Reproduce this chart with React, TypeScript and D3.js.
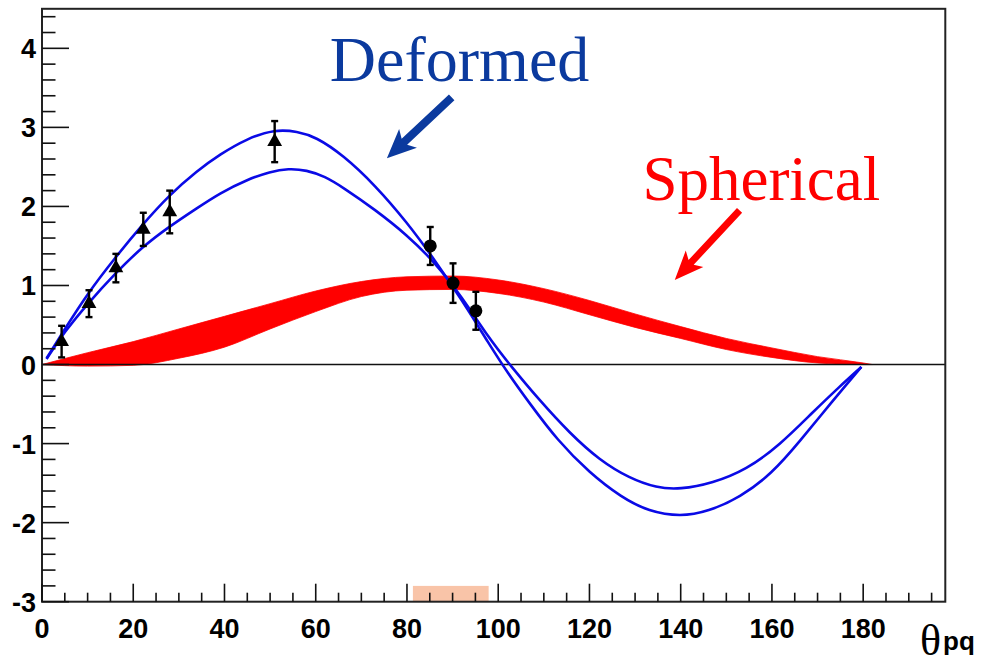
import React, { useEffect, useRef } from 'react';
import * as d3 from 'd3';

const W = 984;
const H = 665;

// Axis ranges
const xDomain: [number, number] = [0, 198];
const yDomain: [number, number] = [-3, 4.5];
const xMajorTicks = [0, 20, 40, 60, 80, 100, 120, 140, 160, 180];
const yMajorTicks = [-3, -2, -1, 0, 1, 2, 3, 4];

// Deformed calculation, larger-amplitude curve
const deformedOuterTheta = [1, 5, 10, 16, 22, 28, 34, 39, 45, 51, 56, 60, 66, 73, 80, 86, 92, 98, 102, 107, 113, 120, 127, 133, 140, 146, 153, 160, 166, 173, 179.6];
const deformedOuterValue = [0.08, 0.45, 0.9, 1.35, 1.77, 2.15, 2.45, 2.66, 2.86, 2.975, 2.95, 2.88, 2.65, 2.27, 1.8, 1.33, 0.82, 0.26, -0.1, -0.5, -0.96, -1.37, -1.68, -1.86, -1.925, -1.86, -1.68, -1.38, -0.98, -0.48, -0.03];

// Deformed calculation, smaller-amplitude curve
const deformedInnerTheta = [1, 5, 10, 16, 22, 28, 34, 39, 45, 50, 54, 58, 62, 66, 73, 80, 86, 92, 98, 102.5, 109, 115.7, 122.2, 128.8, 134.7, 139.8, 147, 154.4, 161.7, 169, 174.8, 179.6];
const deformedInnerValue = [0.07, 0.42, 0.77, 1.15, 1.49, 1.75, 1.98, 2.17, 2.34, 2.44, 2.48, 2.46, 2.38, 2.24, 1.96, 1.64, 1.3, 0.86, 0.33, 0.0, -0.45, -0.87, -1.21, -1.44, -1.56, -1.58, -1.5, -1.33, -1.02, -0.6, -0.28, -0.03];

// Spherical calculation band
const sphericalTheta = [0, 10, 20, 30, 40, 50, 60, 70, 80, 90, 100, 110, 120, 130, 140, 150, 160, 170, 180, 182];
const sphericalUpper = [0, 0.15, 0.29, 0.45, 0.61, 0.77, 0.93, 1.05, 1.11, 1.12, 1.07, 0.96, 0.81, 0.64, 0.48, 0.33, 0.21, 0.1, 0.02, 0];
const sphericalLower = [0, -0.02, -0.01, 0.08, 0.22, 0.45, 0.67, 0.86, 0.94, 0.95, 0.9, 0.79, 0.63, 0.47, 0.33, 0.19, 0.09, 0.02, 0, 0];

// Measurements (triangles) and measurements (circles)
const triTheta = [4.3, 10.3, 16.2, 22.2, 28.0, 51.0];
const triValue = [0.29, 0.77, 1.22, 1.71, 1.93, 2.82];
const triError = [0.2, 0.17, 0.18, 0.21, 0.27, 0.26];
const circTheta = [85.1, 90.1, 95.1];
const circValue = [1.5, 1.03, 0.68];
const circError = [0.24, 0.25, 0.24];

// Highlighted kinematic window on the theta axis
const windowTheta = [81.3, 97.9];
const windowTop = -2.8;

export default function App() {
  const ref = useRef<SVGSVGElement>(null);

  useEffect(() => {
    const svg = d3.select(ref.current);
    svg.selectAll('*').remove();

    const x = d3.scaleLinear().domain(xDomain).range([42, 945.3]);
    const y = d3.scaleLinear().domain(yDomain).range([601.7, 8.8]);

    const g = svg.append('g');

    // window box
    g.append('rect')
      .attr('x', x(windowTheta[0]))
      .attr('y', y(windowTop))
      .attr('width', x(windowTheta[1]) - x(windowTheta[0]))
      .attr('height', y(yDomain[0]) - y(windowTop))
      .attr('fill', '#f9c4a8');

    // spherical band
    const band = d3.area<number>()
      .x((_, i) => x(sphericalTheta[i]))
      .y0((_, i) => y(sphericalLower[i]))
      .y1((_, i) => y(sphericalUpper[i]))
      .curve(d3.curveMonotoneX);
    g.append('path')
      .attr('d', band(sphericalTheta))
      .attr('fill', '#ff0000')
      .attr('stroke', '#ff0000')
      .attr('stroke-width', 0.8);

    // zero line
    g.append('line')
      .attr('x1', x(xDomain[0])).attr('x2', x(xDomain[1]))
      .attr('y1', y(0)).attr('y2', y(0))
      .attr('stroke', '#111').attr('stroke-width', 1.5);

    // deformed curves
    const mkLine = (th: number[], vals: number[]) =>
      d3.line<number>()
        .x((_, i) => x(th[i]))
        .y((_, i) => y(vals[i]))
        .curve(d3.curveBasis)(vals);
    [[deformedOuterTheta, deformedOuterValue], [deformedInnerTheta, deformedInnerValue]].forEach(([th, v]) => {
      g.append('path')
        .attr('d', mkLine(th, v))
        .attr('fill', 'none')
        .attr('stroke', '#0a0ae6')
        .attr('stroke-width', 2.6)
        .attr('stroke-linejoin', 'round');
    });

    // error bars
    const drawErr = (th: number[], v: number[], e: number[]) => {
      th.forEach((t, i) => {
        const cx = x(t);
        const yt = y(v[i] + e[i]);
        const yb = y(v[i] - e[i]);
        g.append('line').attr('x1', cx).attr('x2', cx).attr('y1', yt).attr('y2', yb)
          .attr('stroke', '#000').attr('stroke-width', 2.4);
        [yt, yb].forEach(yy => {
          g.append('line').attr('x1', cx - 3.5).attr('x2', cx + 3.5).attr('y1', yy).attr('y2', yy)
            .attr('stroke', '#000').attr('stroke-width', 2.4);
        });
      });
    };
    drawErr(triTheta, triValue, triError);
    drawErr(circTheta, circValue, circError);

    const tri = d3.symbol().type(d3.symbolTriangle).size(95)();
    triTheta.forEach((t, i) => {
      g.append('path').attr('d', tri).attr('transform', `translate(${x(t)},${y(triValue[i])})`).attr('fill', '#000');
    });
    circTheta.forEach((t, i) => {
      g.append('circle').attr('cx', x(t)).attr('cy', y(circValue[i])).attr('r', 6.5).attr('fill', '#000');
    });

    // frame
    g.append('rect')
      .attr('x', x(xDomain[0])).attr('y', y(yDomain[1]))
      .attr('width', x(xDomain[1]) - x(xDomain[0]))
      .attr('height', y(yDomain[0]) - y(yDomain[1]))
      .attr('fill', 'none').attr('stroke', '#222').attr('stroke-width', 2);

    // y ticks
    const yMinor = d3.range(-3, 4.5001, 0.2).map(v => +v.toFixed(2));
    yMinor.forEach(v => {
      const major = Math.abs(v - Math.round(v)) < 1e-6;
      g.append('line')
        .attr('x1', x(0)).attr('x2', x(0) + (major ? 27 : 13.5))
        .attr('y1', y(v)).attr('y2', y(v))
        .attr('stroke', '#111').attr('stroke-width', 1.6);
    });
    yMajorTicks.forEach(v => {
      g.append('text')
        .attr('x', 36).attr('y', y(v) + 10)
        .attr('text-anchor', 'end')
        .attr('font-family', 'Liberation Sans, Arial, sans-serif')
        .attr('font-weight', 'bold')
        .attr('font-size', 27)
        .text(String(v));
    });

    // x ticks
    const xMinor = d3.range(0, 196, 5);
    xMinor.forEach(t => {
      const major = t % 20 === 0;
      g.append('line')
        .attr('x1', x(t)).attr('x2', x(t))
        .attr('y1', y(-3)).attr('y2', y(-3) - (major ? 18 : 9))
        .attr('stroke', '#111').attr('stroke-width', 1.6);
    });
    xMajorTicks.forEach(t => {
      g.append('text')
        .attr('x', x(t)).attr('y', 638)
        .attr('text-anchor', 'middle')
        .attr('font-family', 'Liberation Sans, Arial, sans-serif')
        .attr('font-weight', 'bold')
        .attr('font-size', 27)
        .text(String(t));
    });

    // axis title
    g.append('text')
      .attr('x', 920).attr('y', 655)
      .attr('font-family', 'Liberation Serif, Times New Roman, serif')
      .attr('font-size', 44)
      .text('θ');
    g.append('text')
      .attr('x', 943).attr('y', 650)
      .attr('font-family', 'Liberation Sans, Arial, sans-serif')
      .attr('font-weight', 'bold')
      .attr('font-size', 26)
      .text('pq');

    // annotations
    const arrow = (t1: number, v1: number, t2: number, v2: number, shaft: number, headL: number, headW: number, fill: string) => {
      const x1 = x(t1), y1 = y(v1), x2 = x(t2), y2 = y(v2);
      const len = Math.hypot(x2 - x1, y2 - y1);
      const ux = (x2 - x1) / len, uy = (y2 - y1) / len;
      const nx = -uy, ny = ux;
      const bx = x2 - ux * headL, by = y2 - uy * headL;
      const sweep = 5;
      const pts: [number, number][] = [
        [x1 + nx * shaft / 2, y1 + ny * shaft / 2],
        [bx + nx * shaft / 2, by + ny * shaft / 2],
        [bx + nx * headW / 2 - ux * sweep, by + ny * headW / 2 - uy * sweep],
        [x2, y2],
        [bx - nx * headW / 2 - ux * sweep, by - ny * headW / 2 - uy * sweep],
        [bx - nx * shaft / 2, by - ny * shaft / 2],
        [x1 - nx * shaft / 2, y1 - ny * shaft / 2],
      ];
      g.append('path').attr('d', 'M' + pts.map(p => p.join(',')).join('L') + 'Z').attr('fill', fill);
    };
    arrow(89.8, 3.38, 75.6, 2.61, 8, 24, 26, '#0b3a9e');
    arrow(152.9, 1.95, 138.7, 1.07, 7, 24, 24, '#ff0000');

    g.append('text')
      .attr('x', x(63.1)).attr('y', y(3.59))
      .attr('font-family', 'Liberation Serif, Times New Roman, serif')
      .attr('font-size', 64)
      .attr('fill', '#0b3a9e')
      .text('Deformed');
    g.append('text')
      .attr('x', x(131.6)).attr('y', y(2.08))
      .attr('font-family', 'Liberation Serif, Times New Roman, serif')
      .attr('font-size', 63)
      .attr('fill', '#ff0000')
      .text('Spherical');
  }, []);

  return (
    <svg
      ref={ref}
      width={W}
      height={H}
      style={{ position: 'absolute', left: 0, top: 0, background: '#fff' }}
    />
  );
}
